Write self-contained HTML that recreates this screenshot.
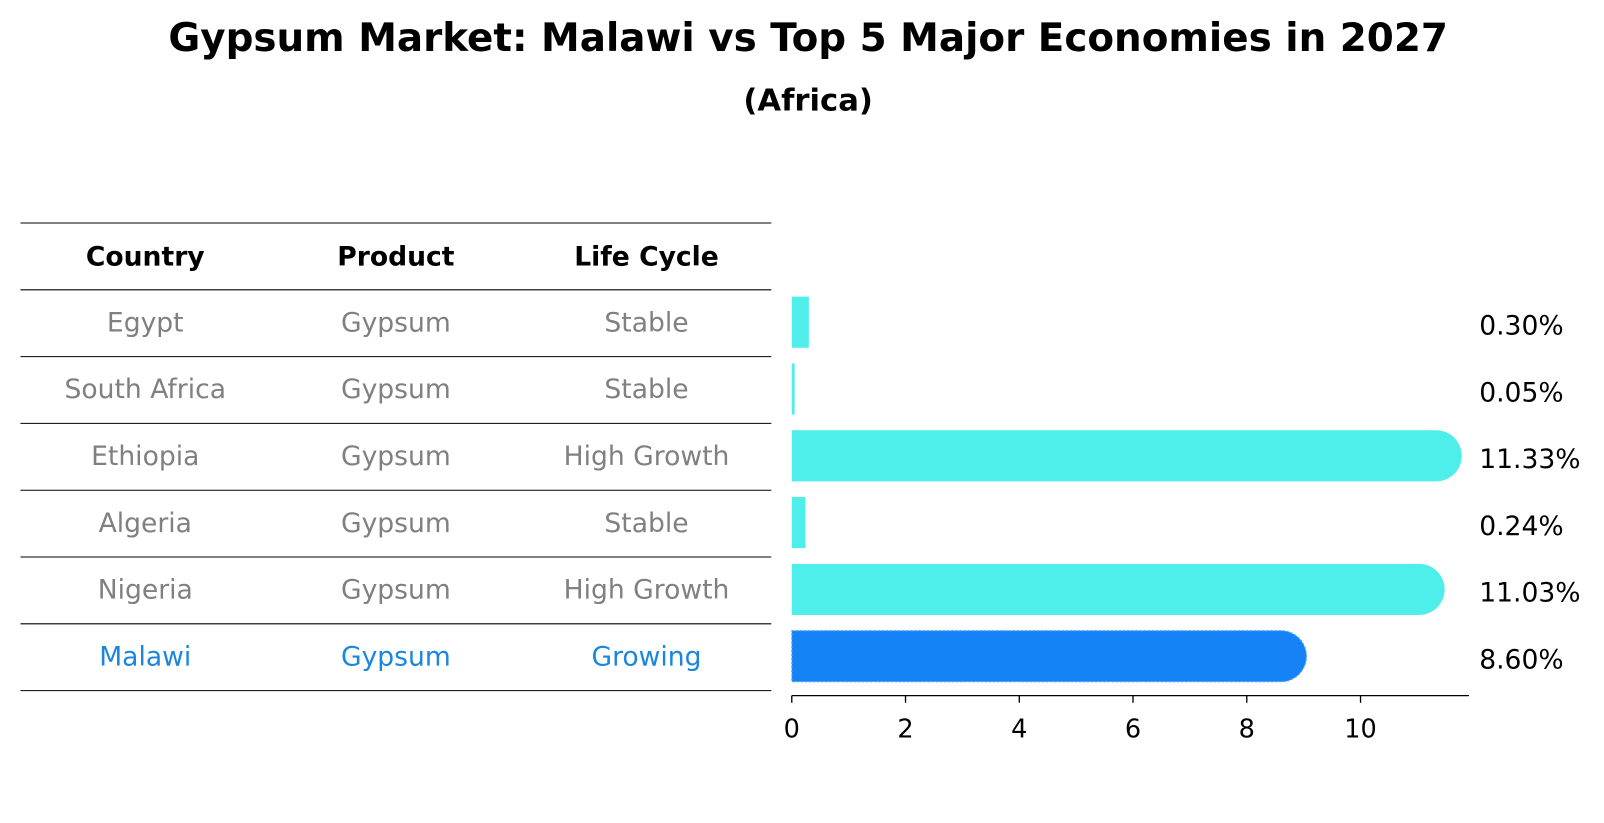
<!DOCTYPE html>
<html><head><meta charset="utf-8"><style>
html,body{margin:0;padding:0;background:#fff;}
svg{display:block;font-family:"DejaVu Sans","Liberation Sans",sans-serif;}
</style></head><body>
<svg id="chart" width="1604" height="823" viewBox="0 0 1568 804.5" xmlns="http://www.w3.org/2000/svg">
<text x="790" y="50" text-anchor="middle" font-size="38" font-weight="bold">Gypsum Market: Malawi vs Top 5 Major Economies in 2027</text>
<text x="790" y="108" text-anchor="middle" font-size="30" font-weight="bold">(Africa)</text>
<g id="table"></g>
<g id="bars"></g>
<g id="axis"></g>
</svg>
<script>
const countries = ["Egypt","South Africa","Ethiopia","Algeria","Nigeria","Malawi"];
const products = ["Gypsum","Gypsum","Gypsum","Gypsum","Gypsum","Gypsum"];
const lifeCycles = ["Stable","Stable","High Growth","Stable","High Growth","Growing"];
const values = [0.30,0.05,11.33,0.24,11.03,8.60];
const valueLabels = ["0.30%","0.05%","11.33%","0.24%","11.03%","8.60%"];
const ticks = [0,2,4,6,8,10];
const headers = ["Country","Product","Life Cycle"];

const NS="http://www.w3.org/2000/svg";
function mk(tag,attrs,parent){const e=document.createElementNS(NS,tag);for(const k in attrs)e.setAttribute(k,attrs[k]);parent.appendChild(e);return e;}
const x0=774, pxPerUnit=55.6;
const xs=v=>x0+v*pxPerUnit;
const tableTop=218, rowH=65.3;
const rowY=i=>tableTop+rowH*(i+1);
const colX=[142,387,632];

const table=document.getElementById('table');
for(let i=0;i<=countries.length+1;i++){
  const l=mk('line',{x1:20,x2:754,y1:tableTop+rowH*i,y2:tableTop+rowH*i,stroke:'#000','stroke-width':1},table);
  
  
}
headers.forEach((h,j)=>{
  const t=mk('text',{x:colX[j],y:tableTop+rowH/2+9,'text-anchor':'middle','font-size':26,'font-weight':'bold'},table);
  t.textContent=h;
  
  
});
countries.forEach((c,i)=>{
  const cells=[c,products[i],lifeCycles[i]];
  const col=c==="Malawi"?"#1a86e0":"#808080";
  cells.forEach((v,j)=>{
    const t=mk('text',{x:colX[j],y:rowY(i)+rowH/2+8,'text-anchor':'middle','font-size':26,fill:col},table);
    t.textContent=v;
    
    
  });
});

const bars=document.getElementById('bars');
const barH=50;
countries.forEach((c,i)=>{
  const cy=rowY(i)+rowH/2-1;
  const y=cy-barH/2, r=barH/2;
  const w=xs(values[i])-x0;
  const isM=c==="Malawi";
  const fill=isM?"#1583f5":"#4eeeea";
  let d;
  if(values[i]>1){
    d=`M${x0},${y} H${x0+w} A${r},${r} 0 0 1 ${x0+w},${y+barH} H${x0} Z`;
  } else {
    d=`M${x0},${y} h${Math.max(w,1.5)} v${barH} h${-Math.max(w,1.5)} Z`;
  }
  const p=mk('path',{d:d,fill:fill},bars);
  if(isM){p.setAttribute('stroke','#5aa8ff');p.setAttribute('stroke-dasharray','2,2');p.setAttribute('stroke-width','1.2');}
  
  
  const t=mk('text',{x:1446,y:cy+12,'font-size':26},bars);
  t.textContent=valueLabels[i];
  
  
});

const axis=document.getElementById('axis');
const ay=680;
const al=mk('line',{x1:x0,x2:1436,y1:ay,y2:ay,stroke:'#000','stroke-width':1.3},axis);


ticks.forEach(v=>{
  const tl=mk('line',{x1:xs(v),x2:xs(v),y1:ay,y2:ay+7,stroke:'#000','stroke-width':1.3},axis);
  
  
  const t=mk('text',{x:xs(v),y:ay+41,'text-anchor':'middle','font-size':25},axis);
  t.textContent=v;
  
  
});
</script>
</body></html>
